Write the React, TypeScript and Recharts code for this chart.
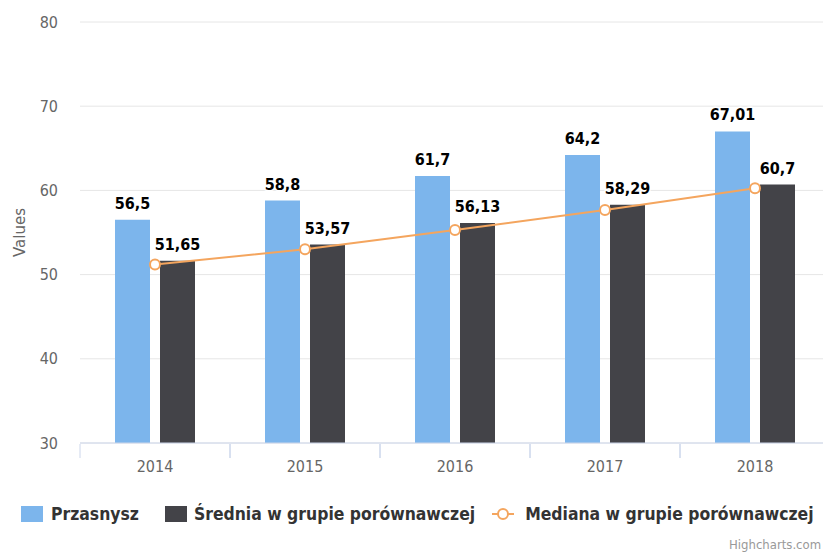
import React from 'react';
import { ComposedChart, Bar, Line, XAxis, YAxis, CartesianGrid, LabelList, Legend } from 'recharts';

const years = ['2014', '2015', '2016', '2017', '2018'];
const przasnysz = [56.5, 58.8, 61.7, 64.2, 67.01];
const srednia = [51.65, 53.57, 56.13, 58.29, 60.7];
const mediana = [51.2, 53.0, 55.3, 57.67, 60.25];
const yTicks = [30, 40, 50, 60, 70, 80];
const seriesNames = ['Przasnysz', 'Średnia w grupie porównawczej', 'Mediana w grupie porównawczej'];

const BLUE = '#7cb5ec';
const DARK = '#434348';
const ORANGE = '#f4a55e';
const FONT = '"DejaVu Sans Condensed", "DejaVu Sans", sans-serif';

const data = years.map((y, i) => ({ year: y, a: przasnysz[i], b: srednia[i], c: mediana[i] }));

const fmt = (v: any) => String(v).replace('.', ',');

const XTick = (props: any) => {
  const { x, y, payload } = props;
  const half = 75;
  const base = y - 7;
  return (
    <g>
      <line x1={x - half} y1={base} x2={x - half} y2={base + 14} stroke="#ccd6eb" strokeWidth={1} />
      <line x1={x + half} y1={base} x2={x + half} y2={base + 14} stroke="#ccd6eb" strokeWidth={1} />
      <text x={x} y={base + 17} dy="0.71em" textAnchor="middle" fill="#666" fontSize={16} fontFamily={FONT}>
        {payload.value}
      </text>
    </g>
  );
};

const YLabel = (props: any) => {
  const vb = props.viewBox || { x: 0, y: 22, width: 80, height: 421 };
  const cx = 20;
  const cy = vb.y + vb.height / 2;
  return (
    <text x={cx} y={cy} transform={`rotate(-90 ${cx} ${cy})`} textAnchor="middle" dominantBaseline="central" fill="#666" fontSize={15} fontFamily='"DejaVu Sans", sans-serif'>
      Values
    </text>
  );
};

const DataLabel = (props: any) => {
  const { x, y, width, value } = props;
  return (
    <text x={x + width / 2} y={y - 11} textAnchor="middle" fill="#000" fontSize={16} fontWeight="bold" fontFamily={FONT}
      stroke="#fff" strokeWidth={3} paintOrder="stroke" strokeLinejoin="round">
      {fmt(value)}
    </text>
  );
};

const LegendContent = () => {
  const textStyle: React.CSSProperties = { fontFamily: FONT, fontSize: 17.4, fontWeight: 'bold', color: '#333', whiteSpace: 'nowrap' };
  return (
    <div style={{ display: 'flex', alignItems: 'center', height: 20 }}>
      <div style={{ display: 'flex', alignItems: 'center', marginRight: 26 }}>
        <div style={{ width: 22, height: 16, background: BLUE, marginRight: 8 }} />
        <span style={textStyle}>{seriesNames[0]}</span>
      </div>
      <div style={{ display: 'flex', alignItems: 'center', marginRight: 17 }}>
        <div style={{ width: 22, height: 16, background: DARK, marginRight: 7 }} />
        <span style={textStyle}>{seriesNames[1]}</span>
      </div>
      <div style={{ display: 'flex', alignItems: 'center' }}>
        <svg width={22} height={16} style={{ marginRight: 11 }}>
          <line x1={0} y1={8} x2={22} y2={8} stroke={ORANGE} strokeWidth={2} />
          <circle cx={11} cy={8} r={5} fill="#fff" stroke={ORANGE} strokeWidth={2} />
        </svg>
        <span style={textStyle}>{seriesNames[2]}</span>
      </div>
    </div>
  );
};

export default function App() {
  return (
    <div style={{ position: 'absolute', left: 0, top: 0, width: 823, height: 552, overflow: 'hidden', background: '#fff' }}>
      <ComposedChart width={840} height={552} data={data} margin={{ top: 22, right: 10, left: 0, bottom: 79 }} barSize={35} barGap={10}>
        <CartesianGrid vertical={false} stroke="#e6e6e6" />
        <XAxis dataKey="year" stroke="#ccd6eb" tickLine={false} height={30} tick={<XTick />} interval={0} />
        <YAxis domain={[30, 80]} ticks={yTicks} width={80} axisLine={false} tickLine={false} tickSize={0} tickMargin={22}
          tick={{ fill: '#666', fontSize: 16, fontFamily: FONT }} label={<YLabel />} />
        <Legend verticalAlign="middle" align="center" layout="horizontal" content={<LegendContent />}
          wrapperStyle={{ top: 504, left: 21, width: 820, height: 20 }} />
        <Bar dataKey="a" name={seriesNames[0]} fill={BLUE} isAnimationActive={false}>
          <LabelList dataKey="a" content={<DataLabel />} />
        </Bar>
        <Bar dataKey="b" name={seriesNames[1]} fill={DARK} isAnimationActive={false}>
          <LabelList dataKey="b" content={<DataLabel />} />
        </Bar>
        <Line dataKey="c" name={seriesNames[2]} stroke={ORANGE} strokeWidth={2} isAnimationActive={false}
          dot={{ r: 5, fill: '#fff', stroke: ORANGE, strokeWidth: 2 }} activeDot={false} />
      </ComposedChart>
      <div style={{ position: 'absolute', left: 729, top: 537, fontFamily: FONT, fontSize: 13, color: '#999', whiteSpace: 'nowrap' }}>
        Highcharts.com
      </div>
    </div>
  );
}
